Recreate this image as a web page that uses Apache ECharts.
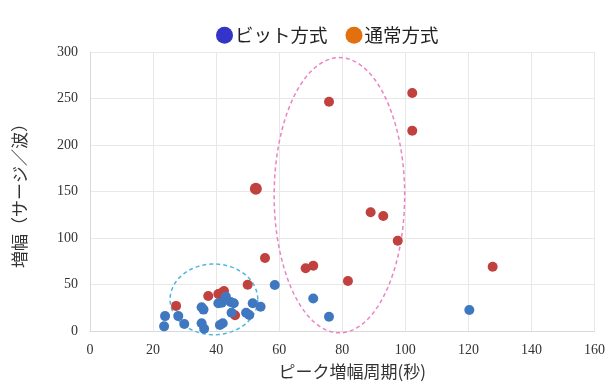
<!DOCTYPE html>
<html>
<head>
<meta charset="utf-8">
<script src="https://cdn.jsdelivr.net/npm/echarts@6/dist/echarts.min.js"></script>
<style>
  html, body { margin: 0; padding: 0; background: #ffffff; }
  #chart { width: 608px; height: 385px; }
</style>
</head>
<body>
<div id="chart"></div>
<script>
// Peak amplification period (s) vs amplification (surges per wave)
const bitPoints = [
  [23.8, 16], [23.5, 5], [28, 16], [29.9, 7.5], [35.4, 25.5], [36, 23],
  [35.4, 8.3], [36.2, 2.5], [40.7, 29.8], [41.8, 30.5], [41.2, 6.5], [42.1, 8.3],
  [44.6, 31.2], [45.6, 29.8], [44.9, 19.7], [43.1, 36.9], [49.5, 19.7], [50.5, 17.2],
  [51.6, 29.8], [54.1, 26], [58.6, 49.5], [70.8, 35], [75.8, 15.4], [120.3, 22.6]
];
const normalPoints = [
  [27.3, 27], [37.5, 37.6], [40.7, 39.8], [41.8, 41.2], [42.5, 43], [46, 17],
  [50, 49.8], [52.6, 153], [55.5, 78.5], [68.4, 67.4], [70.8, 70.2], [75.8, 246.6],
  [81.8, 53.8], [89, 127.6], [93, 123.7], [97.6, 97], [102.2, 256], [102.2, 215.4],
  [127.7, 69]
];
const xTicks = [0, 20, 40, 60, 80, 100, 120, 140, 160];
const yTicks = [0, 50, 100, 150, 200, 250, 300];
const seriesNames = ['ビット方式', '通常方式'];

// Highlight ellipses in data units: [centerX, centerY, radiusX, radiusY]
const clusterEllipse = [39.3, 34, 13.9, 38];
const longPeriodEllipse = [79.1, 146, 20.7, 148];

const serif = '"Liberation Serif", "DejaVu Serif", serif';
const jp = '"Noto Sans CJK JP", sans-serif';

function ellipseSeries(e, color) {
  return {
    type: 'custom',
    silent: true,
    z: 1,
    data: [e],
    renderItem: function (params, api) {
      const pts = [];
      for (let i = 0; i <= 120; i++) {
        const t = (i / 120) * Math.PI * 2;
        pts.push(api.coord([e[0] + e[2] * Math.cos(t), e[1] + e[3] * Math.sin(t)]));
      }
      return {
        type: 'polyline',
        shape: { points: pts },
        style: { fill: null, stroke: color, lineWidth: 1.5, lineDash: [4, 3] }
      };
    }
  };
}

const chart = echarts.init(document.getElementById('chart'), null, { renderer: 'canvas' });
chart.setOption({
  animation: false,
  backgroundColor: '#ffffff',
  legend: {
    top: 21,
    left: 211,
    itemGap: 18,
    itemWidth: 17,
    itemHeight: 17,
    icon: 'circle',
    textStyle: { fontFamily: jp, fontSize: 18.5, color: '#222', padding: [0, 0, 0, -3] },
    data: [
      { name: seriesNames[0], itemStyle: { color: '#3434c8' } },
      { name: seriesNames[1], itemStyle: { color: '#e2700f' } }
    ]
  },
  grid: { left: 90, right: 13, top: 52, bottom: 54 },
  xAxis: {
    type: 'value',
    min: xTicks[0],
    max: xTicks[xTicks.length - 1],
    interval: 20,
    name: 'ピーク増幅周期(秒)',
    nameLocation: 'middle',
    nameGap: 32,
    nameTextStyle: { fontFamily: jp, fontSize: 17, color: '#333', padding: [0, 0, 0, 20] },
    axisLine: { show: true, lineStyle: { color: '#d9d9d9' } },
    axisTick: { show: false },
    axisLabel: { fontFamily: serif, fontSize: 14, color: '#333', margin: 12 },
    splitLine: { show: true, lineStyle: { color: '#e8e8e8' } }
  },
  yAxis: {
    type: 'value',
    min: yTicks[0],
    max: yTicks[yTicks.length - 1],
    interval: 50,
    name: '増幅（サージ／波）',
    nameLocation: 'middle',
    nameGap: 62,
    nameTextStyle: { fontFamily: jp, fontSize: 17, color: '#333' },
    axisLine: { show: true, lineStyle: { color: '#d9d9d9' } },
    axisTick: { show: false },
    axisLabel: { fontFamily: serif, fontSize: 14, color: '#333', margin: 12 },
    splitLine: { show: true, lineStyle: { color: '#e8e8e8' } }
  },
  series: [
    ellipseSeries(clusterEllipse, '#4fb6e2'),
    ellipseSeries(longPeriodEllipse, '#ec82c4'),
    {
      name: seriesNames[1],
      type: 'scatter',
      z: 2,
      symbolSize: function (v) { return v[1] > 140 && v[1] < 170 ? 12 : 10; },
      itemStyle: { color: '#c0413e', opacity: 1 },
      data: normalPoints
    },
    {
      name: seriesNames[0],
      type: 'scatter',
      z: 3,
      symbolSize: 10,
      itemStyle: { color: '#3f78c0', opacity: 1 },
      data: bitPoints
    }
  ]
});
</script>
</body>
</html>
